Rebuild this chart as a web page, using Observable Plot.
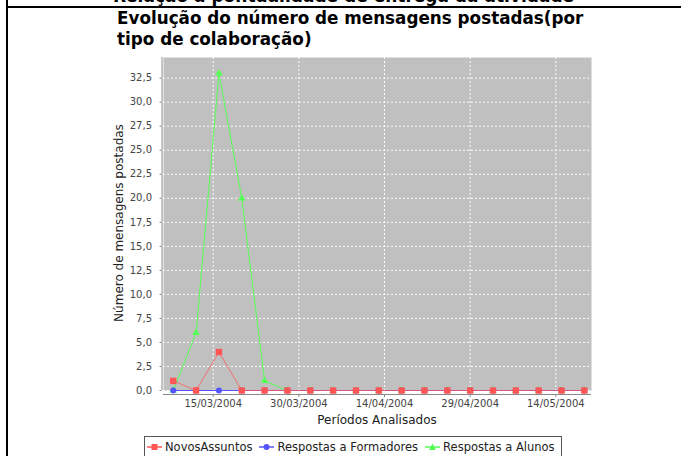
<!DOCTYPE html>
<html><head><meta charset="utf-8">
<script src="https://cdn.jsdelivr.net/npm/d3@7"></script>
<script src="https://cdn.jsdelivr.net/npm/@observablehq/plot@0.6"></script>
<style>
html,body{margin:0;padding:0;background:#fff}
body{width:681px;height:456px;overflow:hidden;position:relative;font-family:"DejaVu Sans",sans-serif}
.abs{position:absolute;white-space:nowrap}
#chart{position:absolute;left:0;top:0}
#cut{left:113px;top:-14px;font-size:17px;font-weight:bold;color:#000;line-height:21px}
#hline{position:absolute;left:6px;top:6px;width:675px;height:2px;background:#000}
#vline{position:absolute;left:6px;top:0;width:2px;height:456px;background:#000}
#title{left:117px;top:8px;font-size:16.8px;font-weight:bold;color:#000;line-height:21px}
#ylab{left:119px;top:223px;font-size:12px;color:#222;transform:translate(-50%,-50%) rotate(-90deg)}
#xlab{left:377px;top:420px;font-size:12px;color:#222;transform:translate(-50%,-50%)}
#legend{position:absolute;left:144px;top:436px;width:416px;height:19px;border:1px solid #555;display:flex;align-items:center;font-size:11.5px;color:#222;white-space:nowrap;overflow:hidden}
#legend .it{display:flex;align-items:center;flex:none;margin-right:5px;white-space:nowrap}
#legend svg{margin:0 3px 0 2px;flex:none}
</style></head><body>
<div class="abs" id="cut">Relação à pontualidade de entrega da atividade</div>
<div id="hline"></div><div id="vline"></div>
<div class="abs" id="title">Evolução do número de mensagens postadas(por<br>tipo de colaboração)</div>
<div id="chart"></div>
<div class="abs" id="ylab">Número de mensagens postadas</div>
<div class="abs" id="xlab">Períodos Analisados</div>
<div id="legend"></div>
<script>
// ---- data ----
const dates = ["2004-03-08","2004-03-12","2004-03-16","2004-03-20","2004-03-24","2004-03-28","2004-04-01","2004-04-05","2004-04-09","2004-04-13","2004-04-17","2004-04-21","2004-04-25","2004-04-29","2004-05-03","2004-05-07","2004-05-11","2004-05-15","2004-05-19"];
const novosAssuntos        = [1,0,4,0,0,0,0,0,0,0,0,0,0,0,0,0,0,0,0];
const respostasFormadores  = [0,0,0,0,0,0,0,0,0,0,0,0,0,0,0,0,0,0,0];
const respostasAlunos      = [0,6,33,20,1,0,0,0,0,0,0,0,0,0,0,0,0,0,0];
const seriesNames  = ["NovosAssuntos","Respostas a Formadores","Respostas a Alunos"];
const seriesColors = ["#FF5555","#5555FF","#55FF55"];
const seriesSymbols = ["square","circle","triangle"];
const yTicks = [0,2.5,5,7.5,10,12.5,15,17.5,20,22.5,25,27.5,30,32.5];
const xTicks = ["2004-03-15","2004-03-30","2004-04-14","2004-04-29","2004-05-14"];

// ---- build ----
const seriesValues = [novosAssuntos, respostasFormadores, respostasAlunos];
const series = seriesNames.map((name,k)=>dates.map((d,i)=>({date:new Date(d), value:seriesValues[k][i], series:name})));
const fmtY = v => d3.format(".1f")(v).replace(".", ",");
const fmtX = d3.utcFormat("%d/%m/%Y");
const xTickDates = xTicks.map(d=>new Date(d));
const xDomain = [new Date("2004-03-06T07:00Z"), new Date("2004-05-20T06:00Z")];

const order = [2,1,0]; // green drawn first, red on top
const marks = [
  Plot.frame({fill:"#C0C0C0", stroke:null}),
  Plot.gridY(yTicks, {stroke:"#fff", strokeOpacity:0.95, strokeDasharray:"2,2"}),
  Plot.gridX(xTickDates, {stroke:"#fff", strokeOpacity:0.95, strokeDasharray:"2,2"}),
  Plot.ruleX([xDomain[0]], {dx:-1.5, stroke:"#8a8a8a"}),
  Plot.ruleY([0], {dy:4, stroke:"#8a8a8a"}),
  Plot.axisY(yTicks, {tickFormat:fmtY, tickSize:2, tickPadding:8, dx:-1.5, fontSize:10, stroke:"#8a8a8a", color:"#444", label:null}),
  Plot.axisX(xTickDates, {tickFormat:fmtX, tickSize:3, tickPadding:2, dy:4, fontSize:10, stroke:"#8a8a8a", color:"#444", label:null})
];
for (const k of order) {
  marks.push(Plot.line(series[k], {x:"date", y:"value", stroke:seriesColors[k], strokeWidth:1, strokeOpacity: k===0?0.75:1}));
}
const sizes = [3.6, 3, 2.8];
for (const k of order) {
  marks.push(Plot.dot(series[k], {x:"date", y:"value", symbol:seriesSymbols[k], r:sizes[k], fill:seriesColors[k], stroke:null}));
}

const chart = Plot.plot({
  width:681, height:456,
  marginLeft:163, marginRight:90, marginTop:57, marginBottom:66,
  x:{type:"utc", domain:xDomain},
  y:{domain:[0,34.65]},
  style:{background:"transparent", fontFamily:"DejaVu Sans, sans-serif", color:"#444"},
  marks
});
document.getElementById("chart").appendChild(chart);

// legend
const leg = document.getElementById("legend");
const symPath = {square:"M-3,-3h6v6h-6z", circle:"M-3,0a3,3 0 1,0 6,0a3,3 0 1,0 -6,0", triangle:"M0,-3.5L3.5,3L-3.5,3Z"};
seriesNames.forEach((name,k)=>{
  const it = document.createElement("span"); it.className="it";
  it.innerHTML = `<svg width="15" height="10" viewBox="-7.5 -5 15 10"><line x1="-7.5" x2="7.5" y1="0" y2="0" stroke="${seriesColors[k]}" stroke-width="1.5"/><path d="${symPath[seriesSymbols[k]]}" fill="${seriesColors[k]}"/></svg>`;
  const t = document.createElement("span"); t.textContent = name; it.appendChild(t);
  leg.appendChild(it);
});
</script>
</body></html>
